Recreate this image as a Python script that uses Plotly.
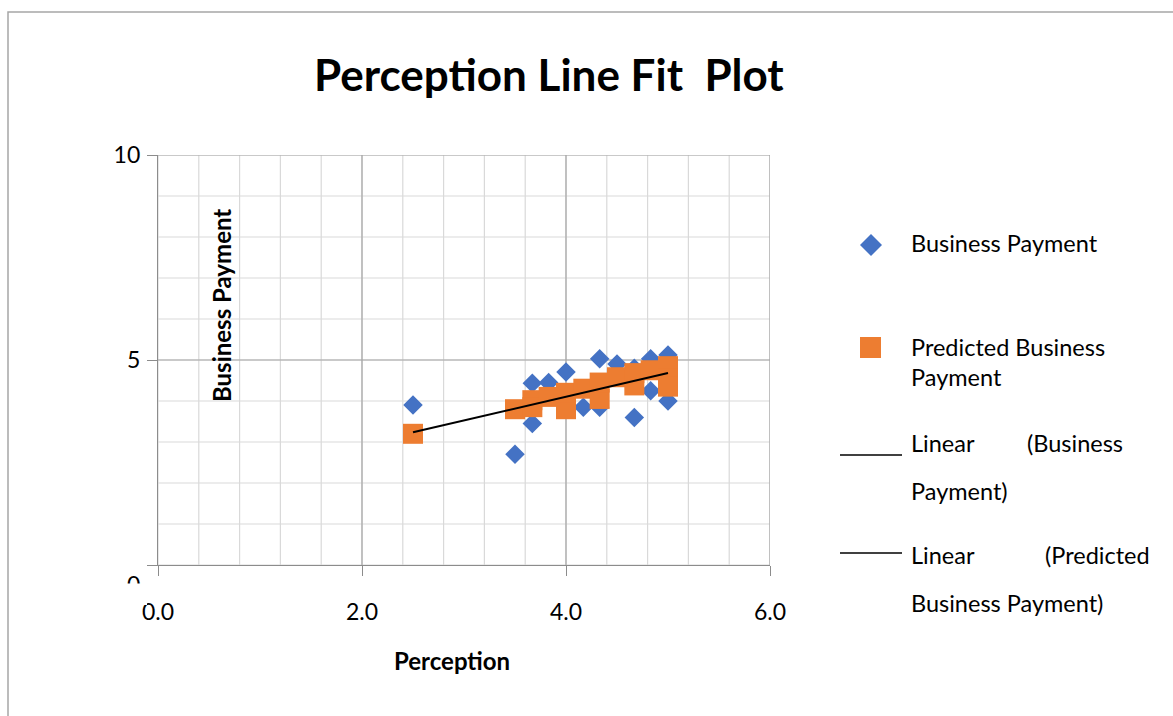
import numpy as np
import plotly.graph_objects as go

# Observed data
perception = [2.50, 3.50, 3.67, 3.67, 3.83, 4.00, 4.17, 4.33, 4.33, 4.50,
              4.67, 4.67, 4.83, 4.83, 5.00, 5.00]
business_payment = [3.90, 2.70, 4.43, 3.45, 4.45, 4.71, 3.85, 5.03, 3.85, 4.90,
                    3.60, 4.80, 5.03, 4.25, 5.12, 4.00]

# Predicted values from the regression
pred_x = [2.50, 3.50, 3.67, 3.67, 3.83, 4.00, 4.00, 4.17, 4.33, 4.33,
          4.50, 4.67, 4.67, 4.83, 5.00, 5.00, 5.00]
pred_y = [3.20, 3.80, 4.02, 3.85, 4.10, 3.80, 4.20, 4.30, 4.05, 4.45,
          4.58, 4.38, 4.68, 4.75, 4.85, 4.55, 4.35]

x_ticks = [0, 2, 4, 6]
x_tick_text = ["0.0", "2.0", "4.0", "6.0"]
y_ticks = [5, 10]
y_tick_text = ["5", "10"]
y_zero_text = "0"

FONT = "Lato"
W, H = 1173, 716
L, R, T, B = 158, 770, 155, 565  # plot-area pixel edges


def px(x):
    return (x - L) / (R - L)


def py(y):
    return (B - y) / (B - T)


fig = go.Figure()

fig.add_trace(go.Scatter(
    x=perception, y=business_payment, mode="markers",
    marker=dict(symbol="diamond", size=15, color="#4472C4"),
    name="Business Payment", cliponaxis=False))

fig.add_trace(go.Scatter(
    x=pred_x, y=pred_y, mode="markers",
    marker=dict(symbol="square", size=20, color="#ED7D31"),
    name="Predicted Business Payment", cliponaxis=False))

# Linear trendline of the predicted series
slope, intercept = np.polyfit(pred_x, pred_y, 1)
xs = np.array([min(pred_x), max(pred_x)])
fig.add_trace(go.Scatter(
    x=xs, y=slope * xs + intercept, mode="lines",
    line=dict(color="black", width=2),
    name="Linear (Predicted Business Payment)"))

# carrier for the lowered "0" label on the value axis
fig.add_trace(go.Scatter(x=[None], y=[None], yaxis="y2", showlegend=False,
                         hoverinfo="skip"))

shapes = []
# outer chart border
shapes.append(dict(type="rect", xref="paper", yref="paper",
                   x0=px(8), x1=px(1185), y0=py(730), y1=py(12),
                   line=dict(color="#a6a6a6", width=1.5), layer="below"))

# minor grid
for v in np.arange(0, 6.01, 0.4):
    shapes.append(dict(type="line", xref="x", yref="paper", x0=v, x1=v, y0=0, y1=1,
                       line=dict(color="#d9d9d9", width=1.2), layer="below"))
for v in range(0, 11):
    shapes.append(dict(type="line", xref="paper", yref="y", x0=0, x1=1, y0=v, y1=v,
                       line=dict(color="#d9d9d9", width=1.2), layer="below"))
# major grid
for v in [2, 4, 6]:
    shapes.append(dict(type="line", xref="x", yref="paper", x0=v, x1=v, y0=0, y1=1,
                       line=dict(color="#a6a6a6", width=1.2), layer="below"))
for v in [5, 10]:
    shapes.append(dict(type="line", xref="paper", yref="y", x0=0, x1=1, y0=v, y1=v,
                       line=dict(color="#a6a6a6", width=1.2), layer="below"))

# clip the lower part of the "0" label, as the chart area does
shapes.append(dict(type="rect", xref="paper", yref="paper",
                   x0=px(90), x1=px(147), y0=py(605), y1=py(583.5),
                   fillcolor="white", line=dict(width=0), layer="above"))

# legend symbols
cx, cy, d = 871, 245, 11
shapes.append(dict(type="path", xref="paper", yref="paper",
                   path=f"M {px(cx-d)} {py(cy)} L {px(cx)} {py(cy-d)} L {px(cx+d)} {py(cy)} L {px(cx)} {py(cy+d)} Z",
                   fillcolor="#4472C4", line=dict(width=0)))
shapes.append(dict(type="rect", xref="paper", yref="paper",
                   x0=px(860), x1=px(881), y0=py(358), y1=py(337),
                   fillcolor="#ED7D31", line=dict(width=0)))
for yy in [455, 553]:
    shapes.append(dict(type="line", xref="paper", yref="paper",
                       x0=px(840), x1=px(902), y0=py(yy), y1=py(yy),
                       line=dict(color="black", width=1.3)))

annotations = []


def text(x, y, s, size=23.5, bold=False, anchor="left", angle=0):
    if bold:
        s = f"<b>{s}</b>"
    annotations.append(dict(x=px(x), y=py(y), xref="paper", yref="paper", text=s,
                            showarrow=False, xanchor=anchor, yanchor="middle",
                            textangle=angle,
                            font=dict(family=FONT, size=size, color="black")))


text(549, 74, "Perception Line Fit  Plot", size=44, bold=True, anchor="center")
text(452, 660, "Perception", size=24, bold=True, anchor="center")
text(221, 306, "Business Payment", size=24, bold=True, anchor="center", angle=-90)

# legend text
text(909, 243, "Business Payment")
text(909, 347, "Predicted Business")
text(909, 377, "Payment")
text(909, 443, "Linear")
text(1025, 443, "(Business")
text(909, 491, "Payment)")
text(909, 555, "Linear")
text(1043, 555, "(Predicted")
text(909, 603, "Business Payment)")

fig.update_layout(
    width=W, height=H,
    margin=dict(l=L, r=W - R, t=T, b=H - B),
    plot_bgcolor="white", paper_bgcolor="white",
    shapes=shapes, annotations=annotations,
    font=dict(family=FONT, size=23, color="black"),
    xaxis=dict(range=[0, 6], tickvals=x_ticks, ticktext=x_tick_text,
               showgrid=False, zeroline=False, showline=True, linecolor="#8c8c8c",
               linewidth=1.2, ticks="outside", ticklen=10, tickcolor="#8c8c8c",
               tickfont=dict(family=FONT, size=23), ticklabelstandoff=16),
    yaxis=dict(range=[0, 10], tickvals=[0] + y_ticks, ticktext=[""] + y_tick_text,
               showgrid=False, zeroline=False, showline=True, linecolor="#8c8c8c",
               linewidth=1.2, ticks="outside", ticklen=10, tickcolor="#8c8c8c",
               tickfont=dict(family=FONT, size=23), ticklabelstandoff=2),
    yaxis2=dict(overlaying="y", side="left", range=[0, 10],
                tickvals=[0], ticktext=[y_zero_text], showgrid=False,
                zeroline=False, showline=False, ticks="outside", ticklen=10,
                tickcolor="rgba(0,0,0,0)", ticklabelshift=20,
                tickfont=dict(family=FONT, size=23), ticklabelstandoff=2),
    showlegend=False,
)

fig.write_html("out.html")
